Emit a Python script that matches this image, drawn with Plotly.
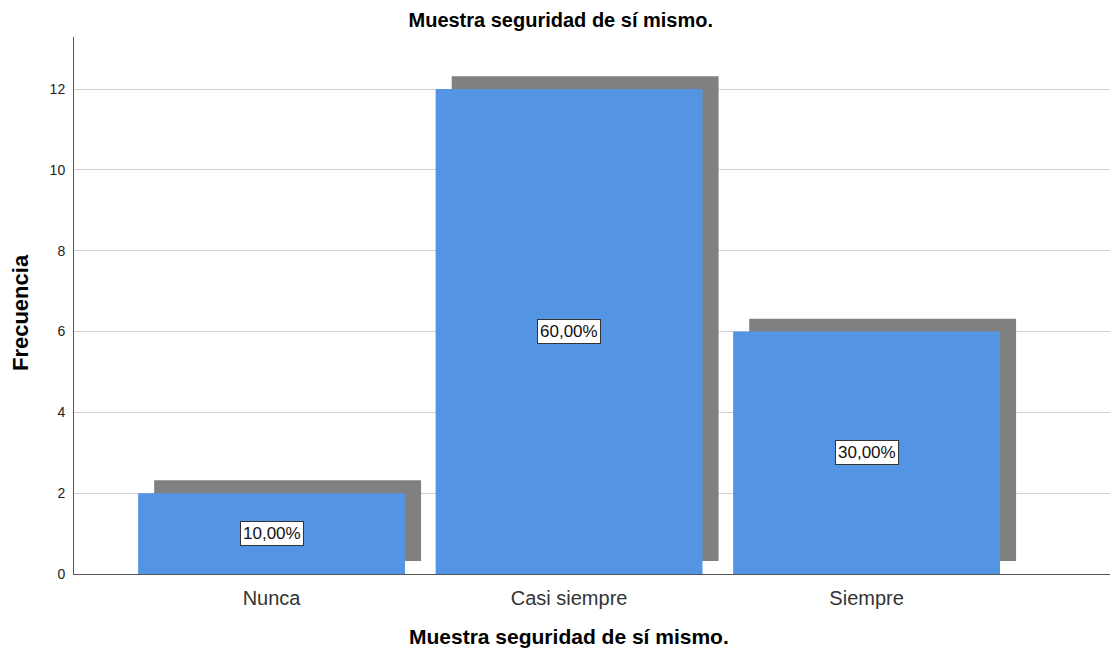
import plotly.graph_objects as go

categories = ["Nunca", "Casi siempre", "Siempre"]
counts = [2, 12, 6]
y_ticks = [0, 2, 4, 6, 8, 10, 12]

title_text = "Muestra seguridad de sí mismo."
y_title = "Frecuencia"
total = sum(counts)
pct_labels = [f"{100 * c / total:.2f}".replace(".", ",") + "%" for c in counts]

bar_w = 0.897
shadow_dx = 0.054
shadow_dy = 0.32

fig = go.Figure()

# drop shadow behind each bar
fig.add_trace(go.Bar(
    x=categories, y=counts, base=shadow_dy,
    width=bar_w, offset=-bar_w / 2 + shadow_dx,
    marker=dict(color="#808080", line=dict(width=0)),
    hoverinfo="skip", showlegend=False,
))
fig.add_trace(go.Bar(
    x=categories, y=counts,
    width=bar_w, offset=-bar_w / 2,
    marker=dict(color="#5495e3", line=dict(width=0)),
    showlegend=False,
))

annotations = [
    dict(
        x=cat, y=c / 2, text=lab, showarrow=False,
        font=dict(family="Liberation Sans", size=17, color="#111111"),
        bgcolor="white", bordercolor="#333333", borderwidth=1, borderpad=2,
    )
    for cat, c, lab in zip(categories, counts, pct_labels)
]
annotations.append(dict(
    text=f"<b>{title_text}</b>", showarrow=False,
    xref="paper", yref="paper", x=0.474, y=-0.1155, yanchor="middle",
    font=dict(family="Liberation Sans", size=21, color="black"),
))
annotations.append(dict(
    text=f"<b>{y_title}</b>", showarrow=False, textangle=-90,
    xref="paper", yref="paper", x=-0.0517, y=0.486,
    xanchor="center", yanchor="middle",
    font=dict(family="Liberation Sans", size=22, color="black"),
))

fig.update_layout(
    width=1110, height=644,
    barmode="overlay",
    plot_bgcolor="white", paper_bgcolor="white",
    margin=dict(l=66, r=0, t=29, b=78),
    title=dict(
        text=f"<b>{title_text}</b>", x=0.498, xanchor="center",
        y=0.982, yanchor="middle",
        font=dict(family="Liberation Sans", size=20, color="black"),
    ),
    xaxis=dict(
        range=[-0.664, 2.845], showgrid=False,
        showline=True, linecolor="#555555", linewidth=1,
        ticks="", ticklabelstandoff=6,
        tickfont=dict(family="Liberation Sans", size=20, color="#333333"),
    ),
    yaxis=dict(
        range=[0, 13.29], tickvals=y_ticks,
        showgrid=True, gridcolor="#d0d0d0", gridwidth=1,
        showline=True, linecolor="#555555", linewidth=1,
        zeroline=False, ticks="", ticklabelstandoff=5,
        tickfont=dict(family="Liberation Sans", size=14, color="#222222"),
    ),
    annotations=annotations,
)

fig.write_html("out.html")
